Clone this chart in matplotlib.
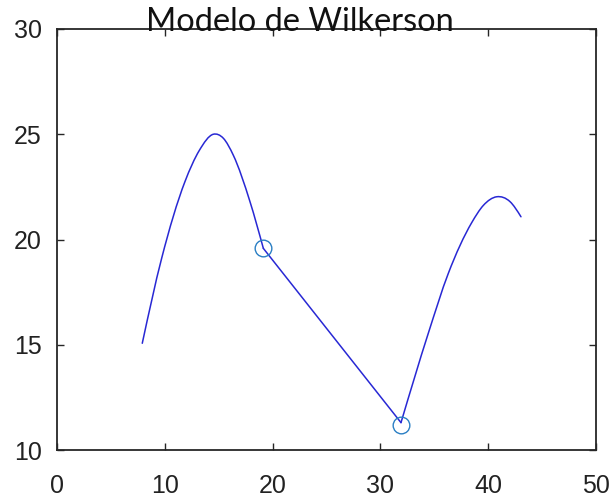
import matplotlib
matplotlib.use("Agg")
import matplotlib.pyplot as plt
from matplotlib.path import Path
from matplotlib.patches import PathPatch

# curve segment 1 (rising hump up to first marker)
x1 = [7.91, 9.71, 11.87, 13.20, 14.50, 15.43, 16.35, 17.90, 19.14]
y1 = [15.07, 19.11, 22.75, 24.23, 25.00, 24.81, 24.01, 21.80, 19.58]
# straight segment between markers
x2 = [19.14, 31.91]
y2 = [19.58, 11.30]
# curve segment 3 (second hump)
x3 = [31.91, 34.44, 36.30, 38.47, 39.55, 40.79, 42.02, 43.04]
y3 = [11.30, 15.54, 18.39, 20.80, 21.62, 22.03, 21.80, 21.08]
# markers
mx = [19.14, 31.95]
my = [19.58, 11.20]

xticks = [0, 10, 20, 30, 40, 50]
yticks = [10, 15, 20, 25, 30]


def smooth_path(xs, ys):
    """Smooth cubic Bezier path through the read points (Hermite in x)."""
    n = len(xs)
    if n == 2:
        return Path([(xs[0], ys[0]), (xs[1], ys[1])], [Path.MOVETO, Path.LINETO])
    h = [xs[i + 1] - xs[i] for i in range(n - 1)]
    d = [(ys[i + 1] - ys[i]) / h[i] for i in range(n - 1)]
    m = [0.0] * n
    for i in range(1, n - 1):
        m[i] = (d[i - 1] * h[i] + d[i] * h[i - 1]) / (h[i - 1] + h[i])
    m[0] = (3 * d[0] - m[1]) / 2
    m[-1] = (3 * d[-1] - m[-2]) / 2
    verts = [(xs[0], ys[0])]
    codes = [Path.MOVETO]
    for i in range(n - 1):
        verts += [(xs[i] + h[i] / 3, ys[i] + m[i] * h[i] / 3),
                  (xs[i + 1] - h[i] / 3, ys[i + 1] - m[i + 1] * h[i] / 3),
                  (xs[i + 1], ys[i + 1])]
        codes += [Path.CURVE4] * 3
    return Path(verts, codes)


W, H = 611, 501
fig = plt.figure(figsize=(W / 100, H / 100), dpi=100)
ax = fig.add_axes([57 / W, 1 - 450 / H, (596 - 57) / W, (450 - 29) / H])

line_color = "#2828d4"
for xs, ys in ((x1, y1), (x2, y2), (x3, y3)):
    ax.add_patch(PathPatch(smooth_path(xs, ys), facecolor="none",
                           edgecolor=line_color, lw=1.1, capstyle="round", joinstyle="round"))
ax.plot(mx, my, linestyle="none", marker="o", markersize=12, markerfacecolor="none",
        markeredgecolor="#2a7fc4", markeredgewidth=1.0)

ax.set_xlim(0, 50)
ax.set_ylim(10, 30)
ax.set_xticks(xticks)
ax.set_yticks(yticks)
for s in ax.spines.values():
    s.set_color("#262626")
    s.set_linewidth(1.3)
ax.tick_params(direction="in", length=5, width=1.0, color="#262626",
               top=True, right=True, labelsize=18, labelcolor="#222222")
ax.tick_params(axis="x", pad=17)
ax.tick_params(axis="y", pad=11)
for lab in ax.get_xticklabels() + ax.get_yticklabels():
    lab.set_fontfamily("Liberation Sans")

fig.text(300 / W, 1 - 31 / H, "Modelo de Wilkerson", ha="center", va="baseline",
         fontsize=23.4, family="Lato", color="#111111")

fig.savefig("out.png", dpi=100)
